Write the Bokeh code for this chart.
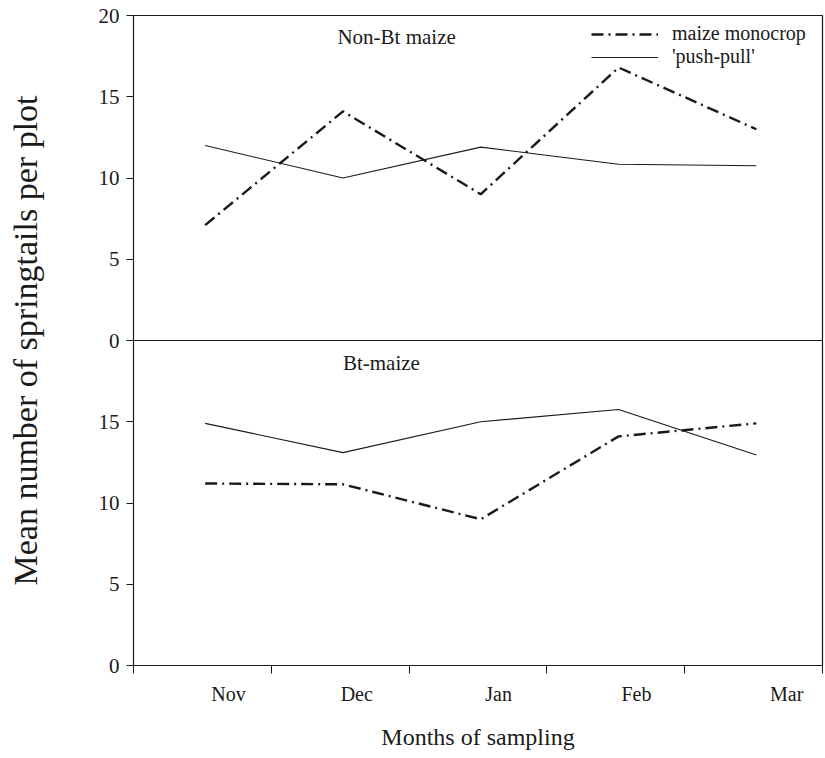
from bokeh.plotting import figure
from bokeh.models import Range1d, FixedTicker, Span, Label, Legend, LegendItem
from bokeh.embed import file_html
from bokeh.resources import INLINE

# ---- data ----
months = ["Nov", "Dec", "Jan", "Feb", "Mar"]
nonbt_monocrop = [7.1, 14.1, 9.0, 16.8, 13.0]
nonbt_pushpull = [12.0, 10.0, 11.9, 10.85, 10.75]
bt_monocrop = [11.2, 11.15, 9.0, 14.1, 14.9]
bt_pushpull = [14.9, 13.1, 15.0, 15.75, 12.95]
y_ticks = [0, 5, 10, 15, 20]

FONT = "Liberation Serif"
INK = "#1a1a1a"

x = list(range(len(months)))
label_offsets = [0.17, 0.10, 0.13, 0.13, 0.22]
label_pos = [i + o for i, o in zip(x, label_offsets)]
boundaries = [i - 0.52 for i in range(len(months) + 1)]

p = figure(width=825, height=758, output_backend="svg", toolbar_location=None,
           x_range=Range1d(-0.52, 4.48), y_range=Range1d(0, 40),
           min_border_left=133, min_border_right=3, min_border_top=15,
           min_border_bottom=93)
# top panel uses its own 0-20 scale on the upper half
p.extra_y_ranges = {"top": Range1d(-20, 20)}

p.background_fill_color = "white"
p.border_fill_color = "white"
p.grid.visible = False
p.outline_line_color = INK
p.outline_line_width = 1.2

dash = "12 5 2 5"
r1 = p.line(x, nonbt_monocrop, y_range_name="top", line_color=INK, line_width=2.4, line_dash=dash)
r2 = p.line(x, nonbt_pushpull, y_range_name="top", line_color=INK, line_width=1.1)
p.line(x, bt_monocrop, line_color=INK, line_width=2.4, line_dash=dash)
p.line(x, bt_pushpull, line_color=INK, line_width=1.1)

p.add_layout(Span(location=20, dimension="width", line_color=INK, line_width=1.2))

# y axis
yt = [t for t in y_ticks[:-1]] + [20 + t for t in y_ticks]
p.yaxis.ticker = FixedTicker(ticks=yt, minor_ticks=[])
p.yaxis.major_label_overrides = {20 + t: str(t) for t in y_ticks}
p.yaxis.axis_label = "Mean number of springtails per plot"
p.yaxis.axis_label_text_font = FONT
p.yaxis.axis_label_text_font_size = "34px"
p.yaxis.axis_label_text_font_style = "normal"
p.yaxis.axis_label_text_color = INK
p.yaxis.axis_label_standoff = 52
p.yaxis.major_label_text_font = FONT
p.yaxis.major_label_text_font_size = "21px"
p.yaxis.major_label_text_color = INK
p.yaxis.major_label_standoff = 7
p.yaxis.major_tick_out = 7
p.yaxis.major_tick_in = 0
p.yaxis.axis_line_color = INK
p.yaxis.major_tick_line_color = INK

# x axis
p.xaxis.ticker = FixedTicker(ticks=label_pos, minor_ticks=boundaries)
p.xaxis.major_label_overrides = {lp: m for lp, m in zip(label_pos, months)}
p.xaxis.major_tick_out = 0
p.xaxis.major_tick_in = 0
p.xaxis.minor_tick_out = 8
p.xaxis.minor_tick_in = 0
p.xaxis.minor_tick_line_color = INK
p.xaxis.axis_line_color = INK
p.xaxis.major_label_standoff = 9
p.xaxis.major_label_text_font = FONT
p.xaxis.major_label_text_font_size = "20px"
p.xaxis.major_label_text_color = INK
p.xaxis.axis_label = "Months of sampling"
p.xaxis.axis_label_text_font = FONT
p.xaxis.axis_label_text_font_size = "24px"
p.xaxis.axis_label_text_font_style = "normal"
p.xaxis.axis_label_text_color = INK
p.xaxis.axis_label_standoff = 16

# panel titles
p.add_layout(Label(x=0.96, y=18.65, y_range_name="top", text="Non-Bt maize",
                   text_font=FONT, text_font_size="21px", text_color=INK,
                   text_baseline="middle"))
p.add_layout(Label(x=1.0, y=18.6, text="Bt-maize",
                   text_font=FONT, text_font_size="21px", text_color=INK,
                   text_baseline="middle"))

legend = Legend(items=[LegendItem(label="maize monocrop", renderers=[r1]),
                       LegendItem(label="'push-pull'", renderers=[r2])],
                location=(458, 597), padding=4, spacing=0, margin=0,
                glyph_width=67, glyph_height=22, label_standoff=14,
                label_text_font=FONT, label_text_font_size="20px",
                label_text_color=INK, border_line_color=None,
                background_fill_alpha=0)
p.add_layout(legend)

open("out.html", "w").write(file_html(p, INLINE))
